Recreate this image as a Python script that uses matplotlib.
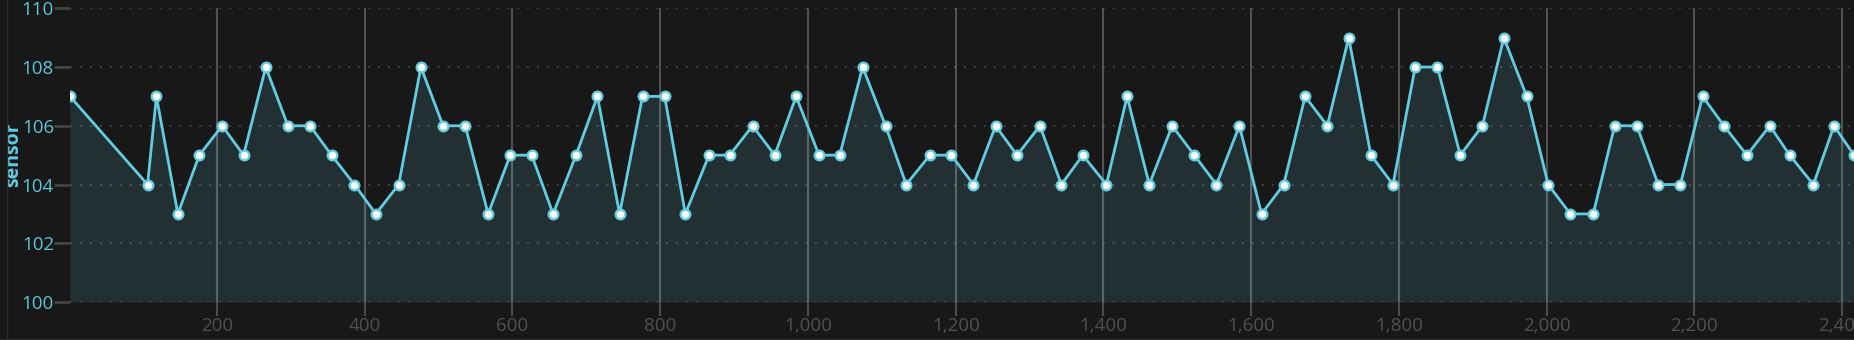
import matplotlib.pyplot as plt
from matplotlib.lines import Line2D
from matplotlib.ticker import FuncFormatter, MultipleLocator

# sensor readings
time_x = [1, 106, 118, 147, 176, 207, 236, 266, 296, 326,
          355, 386, 415, 446, 476, 506, 536, 567, 597, 626,
          655, 686, 715, 745, 776, 806, 834, 866, 894, 925,
          955, 984, 1015, 1043, 1074, 1105, 1133, 1165, 1194, 1224,
          1254, 1283, 1314, 1343, 1372, 1404, 1432, 1462, 1493, 1523,
          1553, 1584, 1614, 1644, 1673, 1703, 1732, 1762, 1792, 1822,
          1852, 1883, 1913, 1942, 1973, 2002, 2032, 2063, 2092, 2122,
          2151, 2181, 2211, 2240, 2271, 2302, 2329, 2361, 2389, 2416]
sensor = [107, 104, 107, 103, 105, 106, 105, 108, 106, 106,
          105, 104, 103, 104, 108, 106, 106, 103, 105, 105,
          103, 105, 107, 103, 107, 107, 103, 105, 105, 106,
          105, 107, 105, 105, 108, 106, 104, 105, 105, 104,
          106, 105, 106, 104, 105, 104, 107, 104, 106, 105,
          104, 106, 103, 104, 107, 106, 109, 105, 104, 108,
          108, 105, 106, 109, 107, 104, 103, 103, 106, 106,
          104, 104, 107, 106, 105, 106, 105, 104, 106, 105]

BG = '#181818'
CYAN = '#62cde0'

plt.rcParams['font.family'] = ['Open Sans', 'DejaVu Sans']

fig = plt.figure(figsize=(18.54, 3.4), dpi=100, facecolor=BG)
ax_w = 1854 - 70
ax = fig.add_axes([70 / 1854, 38 / 340, ax_w / 1854, (302 - 8.3) / 340])
ax.set_facecolor(BG)

ax.fill_between(time_x, sensor, 100, color='#233033', linewidth=0, zorder=1)
ax.plot(time_x, sensor, color=CYAN, linewidth=2.0, zorder=3,
        marker='o', markersize=7, markerfacecolor='white',
        markeredgecolor=CYAN, markeredgewidth=1.6)

ax.set_xlim(time_x[0], time_x[-1])
ax.set_ylim(100, 110)
ax.xaxis.set_major_locator(MultipleLocator(200))
ax.yaxis.set_major_locator(MultipleLocator(2))
ax.xaxis.set_major_formatter(FuncFormatter(lambda v, p: f'{int(v):,}'))

for s in ax.spines.values():
    s.set_visible(False)

ax.set_axisbelow(False)
ax.grid(axis='x', color='white', alpha=0.25, linewidth=1.5, linestyle='-')
ax.grid(axis='y', color='white', alpha=0.2, linewidth=1.1, linestyle=(0, (1.5, 5)))
for gl in ax.get_xgridlines() + ax.get_ygridlines():
    gl.set_zorder(2)

ax.tick_params(axis='x', direction='out', length=10, width=1.5,
               color='#4c4c4c', labelcolor='#505050', labelsize=13.5, pad=1)
ax.tick_params(axis='y', direction='out', length=11.5, width=2,
               color='#444444', labelcolor='#5cc6d8', labelsize=13.5, pad=0)

ax.set_ylabel('sensor', color=CYAN, fontsize=14, fontweight='bold')
# right edge of the rotated label sits about 47 px left of the axes
ax.yaxis.set_label_coords(-47 / ax_w, 0.5)

# thin frame lines at the left and bottom of the figure
fig.add_artist(Line2D([7 / 1854, 7 / 1854], [0, 1], color='#2c2c2c', linewidth=1))
fig.add_artist(Line2D([0, 1], [1 / 340, 1 / 340], color='#2c2c2c', linewidth=1))

fig.savefig('out.png', dpi=100, facecolor=BG)
